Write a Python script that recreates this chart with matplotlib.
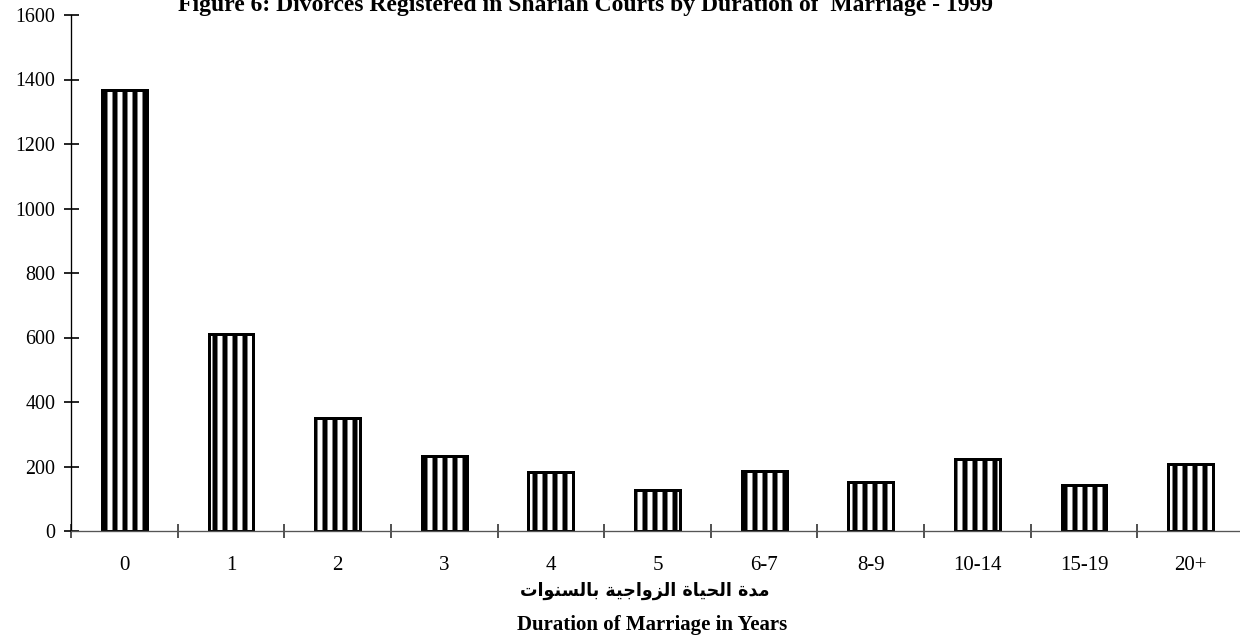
import matplotlib
matplotlib.use('Agg')
import matplotlib.pyplot as plt
import numpy as np

plt.rcParams['font.family'] = ['Liberation Serif', 'DejaVu Sans']
plt.rcParams['hatch.linewidth'] = 3.0

categories = ['0', '1', '2', '3', '4', '5', '6-7', '8-9', '10-14', '15-19', '20+']
divorces = [1368, 612, 350, 233, 183, 127, 187, 151, 223, 142, 207]
yticks = [0, 200, 400, 600, 800, 1000, 1200, 1400, 1600]

title = 'Figure 6: Divorces Registered in Shariah Courts by Duration of  Marriage - 1999'
xlabel_en = 'Duration of Marriage in Years'
# "مدة الحياة الزواجية بالسنوات" in presentation forms (matplotlib does no arabic shaping)
xlabel_ar_logical = ('\uFEE3\uFEAA\uFE93 '
                     '\uFE8D\uFEDF\uFEA4\uFEF4\uFE8E\uFE93 '
                     '\uFE8D\uFEDF\uFEB0\uFEED\uFE8D\uFE9F\uFEF4\uFE94 '
                     '\uFE91\uFE8E\uFEDF\uFEB4\uFEE8\uFEEE\uFE8D\uFE95')
xlabel_ar = xlabel_ar_logical[::-1]  # visual order, right to left

dpi = 120
W, H = 1240, 644
fig = plt.figure(figsize=(W / dpi, H / dpi), dpi=dpi)
ax = fig.add_axes([71 / W, 113 / H, 1173 / W, 516 / H])

x = np.arange(len(categories))
ax.bar(x, divorces, width=0.42, color='white', edgecolor='black',
       linewidth=1.8, hatch='||', zorder=2)

ax.set_xlim(-0.5, len(categories) - 0.5)
ax.set_ylim(0, 1600)
ax.set_yticks(yticks)
ax.set_xticks(x)
ax.set_xticklabels(categories)
ax.set_xticks(np.arange(len(categories) + 1) - 0.5, minor=True)

ax.spines['top'].set_visible(False)
ax.spines['right'].set_visible(False)
ax.spines['bottom'].set_color('#555555')
ax.spines['left'].set_color('black')

ax.tick_params(axis='y', direction='inout', length=9, width=1, labelsize=12, pad=5)
ax.tick_params(axis='x', which='major', length=0, labelsize=12.5, pad=15)
ax.tick_params(axis='x', which='minor', direction='inout', length=8, width=1, color='#333333')

fig.text(586 / W, 1 - 11 / H, title, ha='center', va='baseline',
         fontsize=14.2, fontweight='bold')
fig.text(645 / W, 1 - 591 / H, xlabel_ar, ha='center', va='center',
         fontsize=10.5, fontweight='bold', family='DejaVu Sans')
fig.text(652 / W, 1 - 625 / H, xlabel_en, ha='center', va='center',
         fontsize=12.5, fontweight='bold')

fig.savefig('out.png', dpi=dpi)
